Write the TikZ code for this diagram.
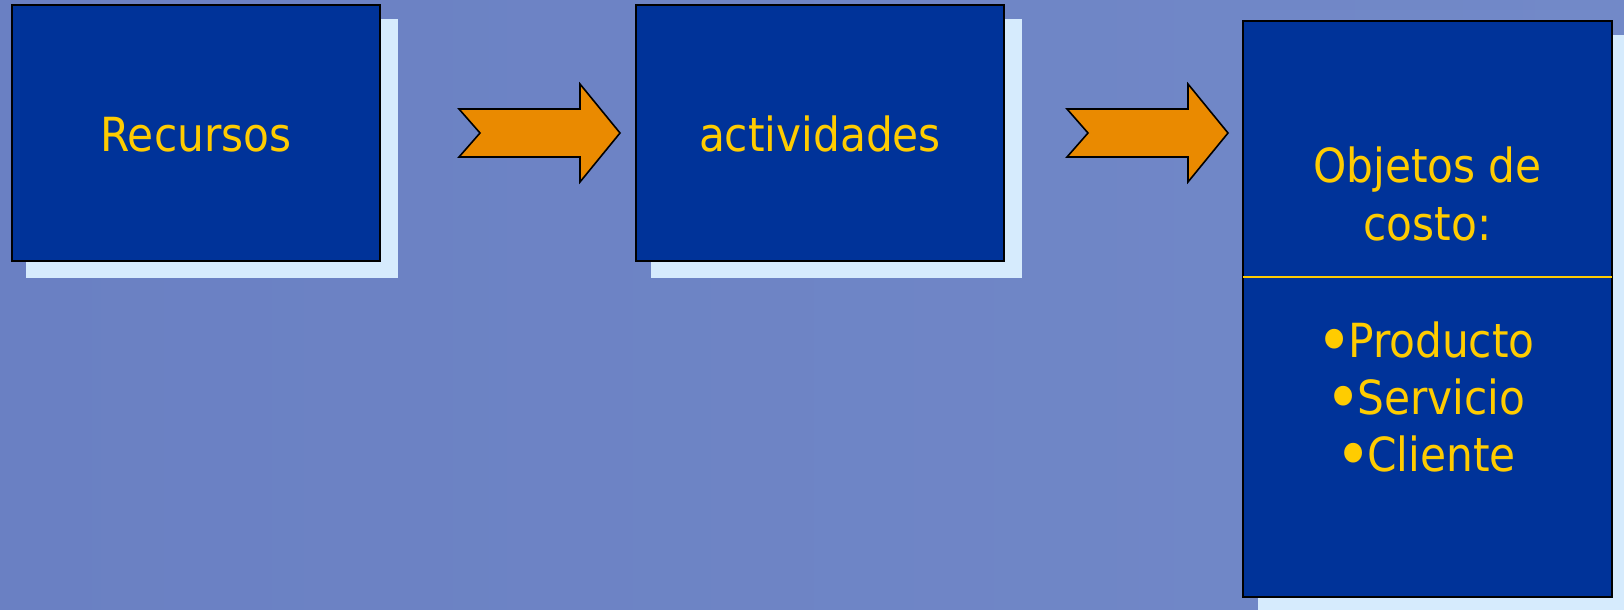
\documentclass[tikz,border=0pt]{standalone}
\usepackage{fontspec}
\usepackage{graphicx}
\setmainfont{DejaVu Sans Condensed}
\definecolor{bgL}{HTML}{6A80C3}
\definecolor{bgR}{HTML}{7289C8}
\definecolor{boxblue}{HTML}{003399}
\definecolor{txtyellow}{HTML}{FFCC00}
\definecolor{shadowblue}{HTML}{D6EBFD}
\definecolor{arroworange}{HTML}{EA8A00}
\newcommand{\bigbul}{\makebox[14pt]{\raisebox{-3.8pt}{\scalebox{1.45}{•}}}}
\begin{document}
\begin{tikzpicture}[x=0.5pt,y=-0.5pt,
  panel/.style={draw=black,line width=0.8pt,fill=boxblue,inner sep=0pt,outer sep=0pt},
  shadowbox/.style={fill=shadowblue,draw=none},
  label/.style={text=txtyellow,font=\fontsize{23.5}{29}\selectfont,inner sep=0pt,anchor=base},
  flowarrow/.style={draw=black,line width=0.8pt,fill=arroworange,line join=miter}]
\useasboundingbox (0,0) rectangle (1624,610);
\shade[left color=bgL,right color=bgR] (0,0) rectangle (1624,610);
% shadows
\fill[shadowbox] (26,19) rectangle (398,278);
\fill[shadowbox] (651,19) rectangle (1022,278);
\fill[shadowbox] (1258,35) rectangle (1624,610);
% boxes
\node[panel,minimum width=184pt,minimum height=128pt] (rec) at (196,133) {};
\node[panel,minimum width=184pt,minimum height=128pt] (act) at (820,133) {};
\node[panel,minimum width=184.5pt,minimum height=288pt] (obj) at (1427.5,309) {};
\draw[txtyellow,line width=0.8pt] (obj.west |- 0,277) coordinate (dl) -- (obj.east |- 0,277) coordinate (dr);
% texts
\node[label] (trec) at (196,152) {Recursos};
\node[label] (tact) at (820,152) {actividades};
\node[label] (t1) at (1427.5,183) {Objetos de};
\node[label] (t2) at (1427.5,241) {costo:};
\node[label] (t3) at (1427.5,357) {\bigbul Producto};
\node[label] (t4) at (1427.5,414) {\bigbul Servicio};
\node[label] (t5) at (1427.5,471) {\bigbul Cliente};
% arrows
\draw[flowarrow] (459,109) -- (580,109) -- (580,84) -- (620,133) -- (580,182) -- (580,157) -- (459,157) -- (480,133) -- cycle;
\draw[flowarrow] (1067,109) -- (1188,109) -- (1188,84) -- (1228,133) -- (1188,182) -- (1188,157) -- (1067,157) -- (1088,133) -- cycle;
\end{tikzpicture}
\end{document}
